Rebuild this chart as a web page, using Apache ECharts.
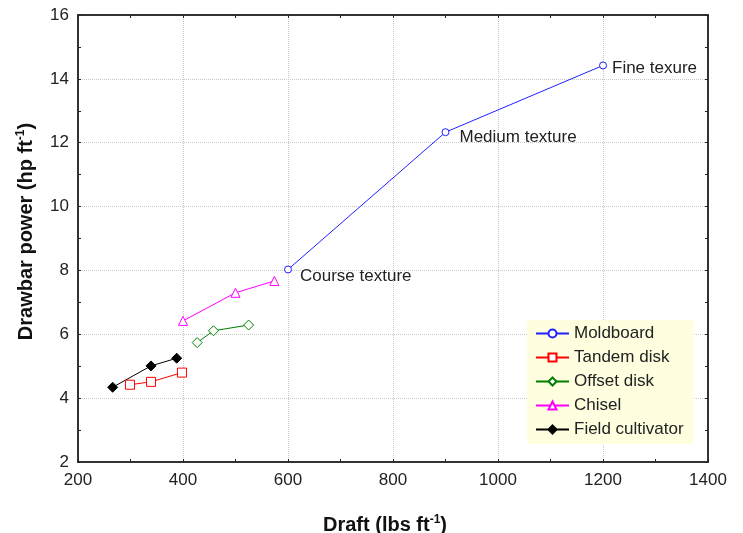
<!DOCTYPE html>
<html>
<head>
    <meta charset="utf-8">
    <title>Drawbar power vs draft</title>
    <script src="https://cdn.jsdelivr.net/npm/echarts@6/dist/echarts.min.js"></script>
    <style>
        html, body { margin: 0; padding: 0; background: #fff; }
        #main { width: 743px; height: 533px; }
    </style>
</head>
<body>
<div id="main"></div>
<script>
    // values
    var moldboardX = [600, 900, 1200];
    var moldboardY = [8.03, 12.33, 14.42];
    var textureLabels = ['Course texture', 'Medium texture', 'Fine texure'];

    var tandemX = [299, 339, 398];
    var tandemY = [4.42, 4.51, 4.80];

    var offsetX = [427, 458, 525];
    var offsetY = [5.74, 6.11, 6.29];

    var chiselX = [400, 500, 574];
    var chiselY = [6.42, 7.30, 7.67];

    var cultivatorX = [266, 339, 388];
    var cultivatorY = [4.34, 5.01, 5.25];

    var seriesNames = ['Moldboard', 'Tandem disk', 'Offset disk', 'Chisel', 'Field cultivator'];

    function pairs(xs, ys) {
        return xs.map(function (x, i) { return [x, ys[i]]; });
    }

    var labelOffsets = [[3, 7], [5, 5], [0, 3]];
    var moldboardData = pairs(moldboardX, moldboardY).map(function (p, i) {
        return {
            value: p,
            label: { show: true, formatter: textureLabels[i], position: 'right', offset: labelOffsets[i] }
        };
    });

    var font = 'Liberation Sans, Arial, sans-serif';

    function line(name, data, color, symbol, size, filled) {
        return {
            name: name,
            type: 'line',
            data: data,
            symbol: symbol,
            symbolSize: size,
            showSymbol: true,
            lineStyle: { color: color, width: 1 },
            itemStyle: { color: filled ? color : '#fff', borderColor: color, borderWidth: 1 },
            label: { color: '#222', fontSize: 17, fontFamily: font },
            emphasis: { disabled: true },
            animation: false
        };
    }

    var axisCommon = {
        axisLine: { show: true, lineStyle: { color: '#333', width: 2 } },
        axisTick: { show: true, inside: true, length: 3, lineStyle: { color: '#222' } },
        minorTick: { show: true, splitNumber: 2, length: 3, lineStyle: { color: '#222' } }
    };

    var titleRich = {
        a: { fontSize: 20, fontWeight: 'bold', fontFamily: font, color: '#111' },
        s: { fontSize: 12, fontWeight: 'bold', fontFamily: font, color: '#111', padding: [0, 0, 10, 0] }
    };

    var plain = function (v) { return String(v); };

    var chart = echarts.init(document.getElementById('main'));
    chart.setOption({
        backgroundColor: '#fff',
        animation: false,
        grid: { left: 78, right: 35, top: 15, bottom: 71, outerBoundsMode: 'none', containLabel: false },
        legend: {
            orient: 'vertical',
            left: 527,
            top: 320,
            backgroundColor: '#ffffe0',
            padding: [5, 10, 6, 8],
            itemGap: 7,
            itemWidth: 33,
            itemHeight: 10,
            textStyle: { color: '#222', fontSize: 17, fontFamily: font },
            data: seriesNames
        },
        xAxis: [
            Object.assign({
                type: 'value', min: 200, max: 1400, interval: 200,
                name: '{a|Draft (lbs ft}{s|-1}{a|)}',
                nameLocation: 'middle', nameGap: 52,
                nameTextStyle: { rich: titleRich, padding: [0, 16, 0, 0] },
                axisLabel: { color: '#222', fontSize: 17, fontFamily: font, margin: 10, formatter: plain },
                splitLine: { show: true, lineStyle: { color: '#c8c8c8', type: 'dotted', width: 1 } }
            }, axisCommon),
            Object.assign({
                type: 'value', min: 200, max: 1400, interval: 200, position: 'top',
                axisLabel: { show: false }, splitLine: { show: false }
            }, axisCommon)
        ],
        yAxis: [
            Object.assign({
                type: 'value', min: 2, max: 16, interval: 2,
                name: '{a|Drawbar power (hp ft}{s|-1}{a|)}',
                nameLocation: 'middle', nameGap: 41, nameRotate: 90,
                nameTextStyle: { rich: titleRich, padding: [0, 0, 0, 14] },
                axisLabel: { color: '#222', fontSize: 17, fontFamily: font, margin: 9, formatter: plain },
                splitLine: { show: true, lineStyle: { color: '#c8c8c8', type: 'dotted', width: 1 } }
            }, axisCommon),
            Object.assign({
                type: 'value', min: 2, max: 16, interval: 2, position: 'right',
                axisLabel: { show: false }, splitLine: { show: false }
            }, axisCommon)
        ],
        series: [
            line('Moldboard', moldboardData, '#2020ff', 'circle', 7, false),
            line('Tandem disk', pairs(tandemX, tandemY), '#ff0000', 'rect', 9, false),
            line('Offset disk', pairs(offsetX, offsetY), '#008000', 'diamond', 10, false),
            line('Chisel', pairs(chiselX, chiselY), '#ff00ff', 'triangle', 9, false),
            line('Field cultivator', pairs(cultivatorX, cultivatorY), '#000000', 'diamond', 10, true)
        ]
    });
</script>
</body>
</html>
